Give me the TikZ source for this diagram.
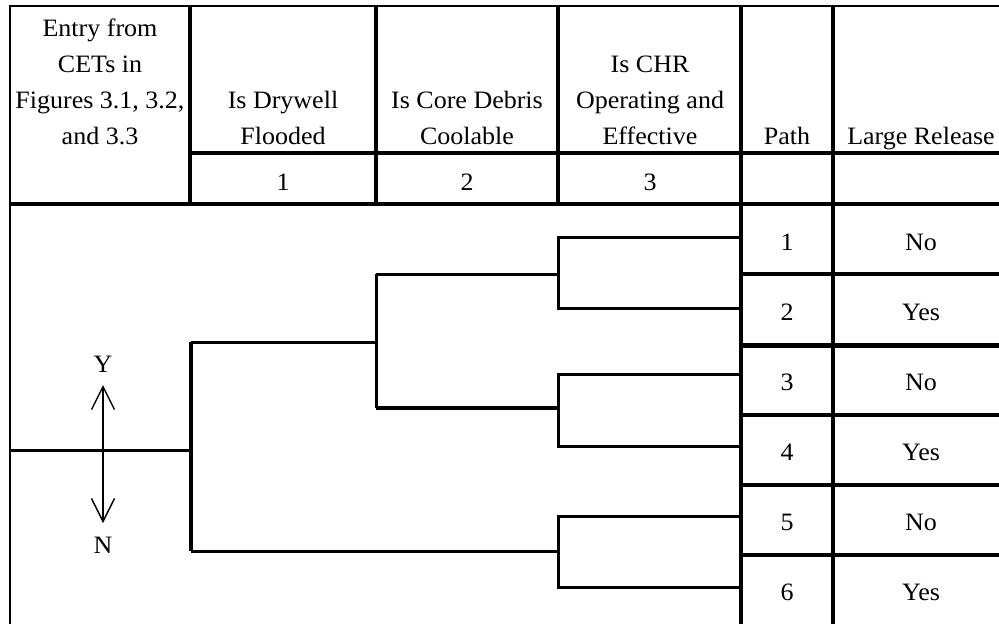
\documentclass[tikz,border=0pt]{standalone}
\usepackage{fontspec}
\setmainfont{Liberation Serif}[FakeStretch=1.04]
\usetikzlibrary{arrows.meta}
\begin{document}
\begin{tikzpicture}[x=1pt,y=-1pt,
  frame/.style={line width=2pt},
  rule/.style={line width=3.3pt},
  heavyrule/.style={line width=5pt},
  branch/.style={line width=3pt, line join=miter},
  heavybranch/.style={line width=4.6pt},
  lbl/.style={anchor=base, inner sep=0pt, font=\fontsize{25}{36}\selectfont},
  yn/.style={line width=1.4pt, {Straight Barb[length=23pt,width=23pt]}-{Straight Barb[length=23pt,width=23pt]}}]
\useasboundingbox (0,0) rectangle (999,624);
\clip (0,0) rectangle (999,624);

% ---- table grid ----
\draw[frame] (10,640) -- (10,6) -- (1020,6);
\draw[rule] (190,6) -- (190,204);
\draw[rule] (376,6) -- (376,204);
\draw[rule] (558,6) -- (558,204);
\draw[rule] (741,6) -- (741,640);
\draw[rule] (833,6) -- (833,640);
\draw[rule] (190,153) -- (1020,153);
\draw[rule] (10,204) -- (1020,204);
% row separators of the outcome columns
\draw[rule] (741,274) -- (1020,274);
\draw[heavyrule] (741,345) -- (1020,345);
\draw[rule] (741,415) -- (1020,415);
\draw[rule] (741,485) -- (1020,485);
\draw[rule] (741,555) -- (1020,555);

% ---- header texts ----
\node[lbl] (e1) at (100,36)  {Entry from};
\node[lbl] (e2) at (100,72)  {CETs in};
\node[lbl] (e3) at (100,108) {Figures 3.1, 3.2,};
\node[lbl] (e4) at (100,144) {and 3.3};
\node[lbl] (d1) at (283,108) {Is Drywell};
\node[lbl] (d2) at (283,144) {Flooded};
\node[lbl] (c1) at (467,108) {Is Core Debris};
\node[lbl] (c2) at (467,144) {Coolable};
\node[lbl] (h1) at (650,72)  {Is CHR};
\node[lbl] (h2) at (650,108) {Operating and};
\node[lbl] (h3) at (650,144) {Effective};
\node[lbl] (ph) at (787,144) {Path};
\node[lbl] (lr) at (921,144) {Large Release};
\node[lbl] (q1) at (283,190) {1};
\node[lbl] (q2) at (467,190) {2};
\node[lbl] (q3) at (650,190) {3};

% ---- outcome rows ----
\foreach \n/\r/\y in {1/No/250, 2/Yes/320, 3/No/390, 4/Yes/460, 5/No/530, 6/Yes/600}{
  \node[lbl] (p\n) at (787,\y) {\n};
  \node[lbl] (o\n) at (921,\y) {\r};
}

% ---- event tree ----
\coordinate (entry) at (10,450);
\coordinate (j1) at (191,450);
\coordinate (j1y) at (191,342);
\coordinate (j1n) at (191,551);
\coordinate (j2) at (376,342);
\coordinate (j2y) at (376,274);
\coordinate (j2n) at (376,408);
\coordinate (j3a) at (558,274);
\coordinate (j3b) at (558,408);
\coordinate (j3c) at (558,551);
\coordinate (t1) at (741,237);
\coordinate (t2) at (741,308);
\coordinate (t3) at (741,374);
\coordinate (t4) at (741,446);
\coordinate (t5) at (741,516);
\coordinate (t6) at (741,587);

\draw[branch] (entry) -- (j1);
\draw[heavybranch] (j1y) -- (j1n);
\draw[branch] (j1y) -- (j2);
\draw[branch] (j2y) -- (j2n);
\draw[branch] (j2y) -- (j3a);
\draw[heavybranch] (j2n) -- (j3b);
\draw[branch] (j1n) -- (j3c);
\draw[branch] (t1) -| (j3a |- t2) -- (t2);
\draw[branch] (t3) -| (j3b |- t4) -- (t4);
\draw[branch] (t5) -| (j3c |- t6) -- (t6);

% ---- yes / no key ----
\node[lbl] (ylab) at (103,372) {Y};
\node[lbl] (nlab) at (103,553) {N};
\coordinate (ytip) at (103,385);
\coordinate (ntip) at (103,523);
\draw[yn] (ytip) -- (ntip);
\end{tikzpicture}
\end{document}
